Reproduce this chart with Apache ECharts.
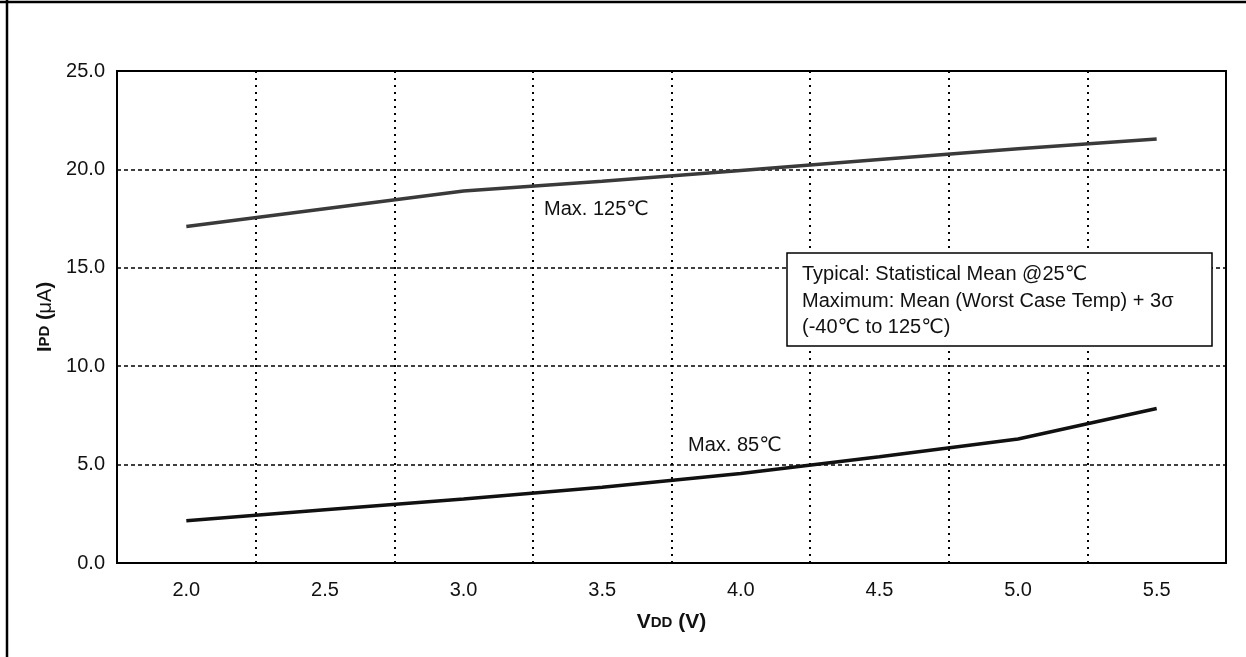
<!DOCTYPE html>
<html>
<head>
<meta charset="utf-8">
<script src="https://cdn.jsdelivr.net/npm/echarts@6/dist/echarts.min.js"></script>
<style>
html,body{margin:0;padding:0;background:#fff;}
#c{width:1246px;height:657px;}
</style>
</head>
<body>
<div id="c"></div>
<script>
const categories = ['2.0','2.5','3.0','3.5','4.0','4.5','5.0','5.5'];
const max125 = [17.1, 18.0, 18.9, 19.4, 19.95, 20.5, 21.05, 21.55];
const max85 = [2.15, 2.7, 3.25, 3.85, 4.55, 5.4, 6.3, 7.85];
const yTicks = [0, 5, 10, 15, 20, 25];
const label125 = 'Max. 125\u2103';
const label85 = 'Max. 85\u2103';
const noteLines = ['Typical: Statistical Mean @25\u2103', 'Maximum: Mean (Worst Case Temp) + 3\u03c3', '(-40\u2103 to 125\u2103)'];

const FONT = '"Liberation Sans", Arial, "DejaVu Sans", sans-serif';
const chart = echarts.init(document.getElementById('c'), null, {renderer: 'canvas'});

chart.setOption({
  animation: false,
  backgroundColor: '#fff',
  textStyle: {fontFamily: FONT},
  grid: {left: 117, right: 20, top: 71, bottom: 94, show: true, borderColor: '#000', borderWidth: 2, backgroundColor: 'transparent'},
  xAxis: {
    type: 'category',
    data: categories,
    boundaryGap: true,
    axisLine: {show: true, lineStyle: {color: '#000', width: 2}},
    axisTick: {show: false},
    axisLabel: {color: '#111', fontSize: 20, margin: 17, fontFamily: FONT},
    splitLine: {show: true, lineStyle: {color: '#000', width: 2, type: [2, 5]}},
    name: '{b|V}{s|DD}{b| (V)}',
    nameLocation: 'middle',
    nameGap: 49,
    nameTextStyle: {
      rich: {
        b: {fontSize: 21, fontWeight: 'bold', color: '#111', fontFamily: FONT},
        s: {fontSize: 15, fontWeight: 'bold', color: '#111', fontFamily: FONT}
      }
    }
  },
  yAxis: {
    type: 'value',
    min: yTicks[0],
    max: yTicks[yTicks.length - 1],
    interval: yTicks[1] - yTicks[0],
    axisLine: {show: true, lineStyle: {color: '#000', width: 2}},
    axisTick: {show: false},
    axisLabel: {color: '#111', fontSize: 20, margin: 12, fontFamily: FONT, formatter: v => v.toFixed(1)},
    splitLine: {show: true, lineStyle: {color: '#000', width: 1.5, type: [4, 3]}},
    name: '{b|I}{s|PD}{b| (}{n|\u03bcA}{b|)}',
    nameLocation: 'middle',
    nameGap: 62,
    nameRotate: 90,
    nameTextStyle: {
      rich: {
        b: {fontSize: 20, fontWeight: 'bold', color: '#111', fontFamily: FONT},
        n: {fontSize: 20, fontWeight: 'normal', color: '#111', fontFamily: FONT},
        s: {fontSize: 15, fontWeight: 'bold', color: '#111', fontFamily: FONT}
      }
    }
  },
  series: [
    {name: 'Max. 125C', type: 'line', data: max125, symbol: 'none', lineStyle: {color: '#3a3a3a', width: 3.5}, z: 5},
    {name: 'Max. 85C', type: 'line', data: max85, symbol: 'none', lineStyle: {color: '#111', width: 3.5}, z: 5}
  ],
  graphic: [
    {type: 'line', shape: {x1: 0, y1: 2, x2: 1246, y2: 2}, style: {stroke: '#000', lineWidth: 2.5}},
    {type: 'line', shape: {x1: 7, y1: 0, x2: 7, y2: 657}, style: {stroke: '#000', lineWidth: 2.5}},
    {type: 'text', left: 544, top: 199, style: {text: label125, font: '20px ' + FONT, fill: '#111'}},
    {type: 'text', left: 688, top: 435, style: {text: label85, font: '20px ' + FONT, fill: '#111'}},
    {type: 'rect', shape: {x: 787, y: 253, width: 425, height: 93}, style: {fill: '#fff', stroke: '#000', lineWidth: 1.5}, z: 10},
    {type: 'text', left: 802, top: 261, z: 11, style: {text: noteLines.join('\n'), font: '20px ' + FONT, lineHeight: 26.7, fill: '#111'}}
  ]
});
</script>
</body>
</html>
